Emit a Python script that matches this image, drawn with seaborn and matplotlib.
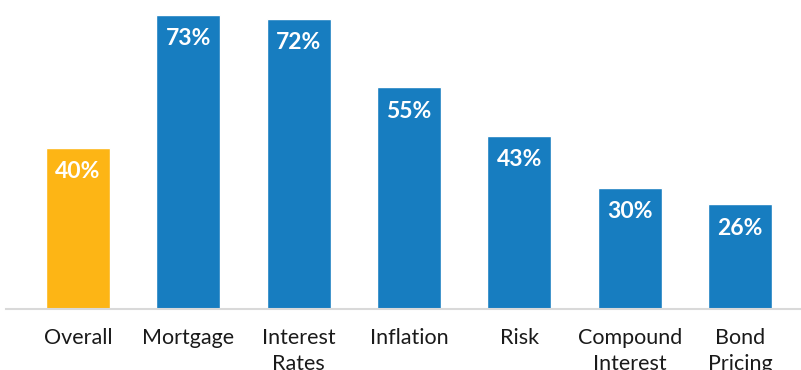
import matplotlib
matplotlib.use("Agg")
import matplotlib.pyplot as plt
import seaborn as sns
import pandas as pd

# chart data
categories = ["Overall", "Mortgage", "Interest\nRates", "Inflation", "Risk",
              "Compound\nInterest", "Bond\nPricing"]
values = [40, 73, 72, 55, 43, 30, 26]
bar_colors = ["#FDB515", "#177DC0", "#177DC0", "#177DC0", "#177DC0", "#177DC0", "#177DC0"]

df = pd.DataFrame({"topic": categories, "pct": values})

sns.set_theme(style="white")
plt.rcParams["font.family"] = ["Lato", "DejaVu Sans"]

fig = plt.figure(figsize=(8.01, 3.70), dpi=100)
ax = fig.add_axes([6 / 801, 61 / 370, 795 / 801, 309 / 370])

sns.barplot(data=df, x="topic", y="pct", hue="topic", palette=bar_colors,
            width=0.58, legend=False, ax=ax, saturation=1)

for i, v in enumerate(values):
    ax.annotate(f"{v}%", (i, v), xytext=(0, -24), textcoords="offset pixels",
                ha="center", va="center", color="white", fontsize=16.5,
                fontweight="bold")

ax.set_xlim(-0.653, 6.553)
ax.set_ylim(0, 76.6)
ax.set_xlabel("")
ax.set_ylabel("")
ax.set_yticks([])
ax.tick_params(axis="x", length=0, pad=14, labelsize=15.5, colors="#1a1a1a")
for lbl in ax.get_xticklabels():
    lbl.set_linespacing(1.35)

for side in ["top", "left", "right"]:
    ax.spines[side].set_visible(False)
ax.spines["bottom"].set_color("#d9d9d9")
ax.spines["bottom"].set_linewidth(1.5)

fig.savefig("out.png", dpi=100)
